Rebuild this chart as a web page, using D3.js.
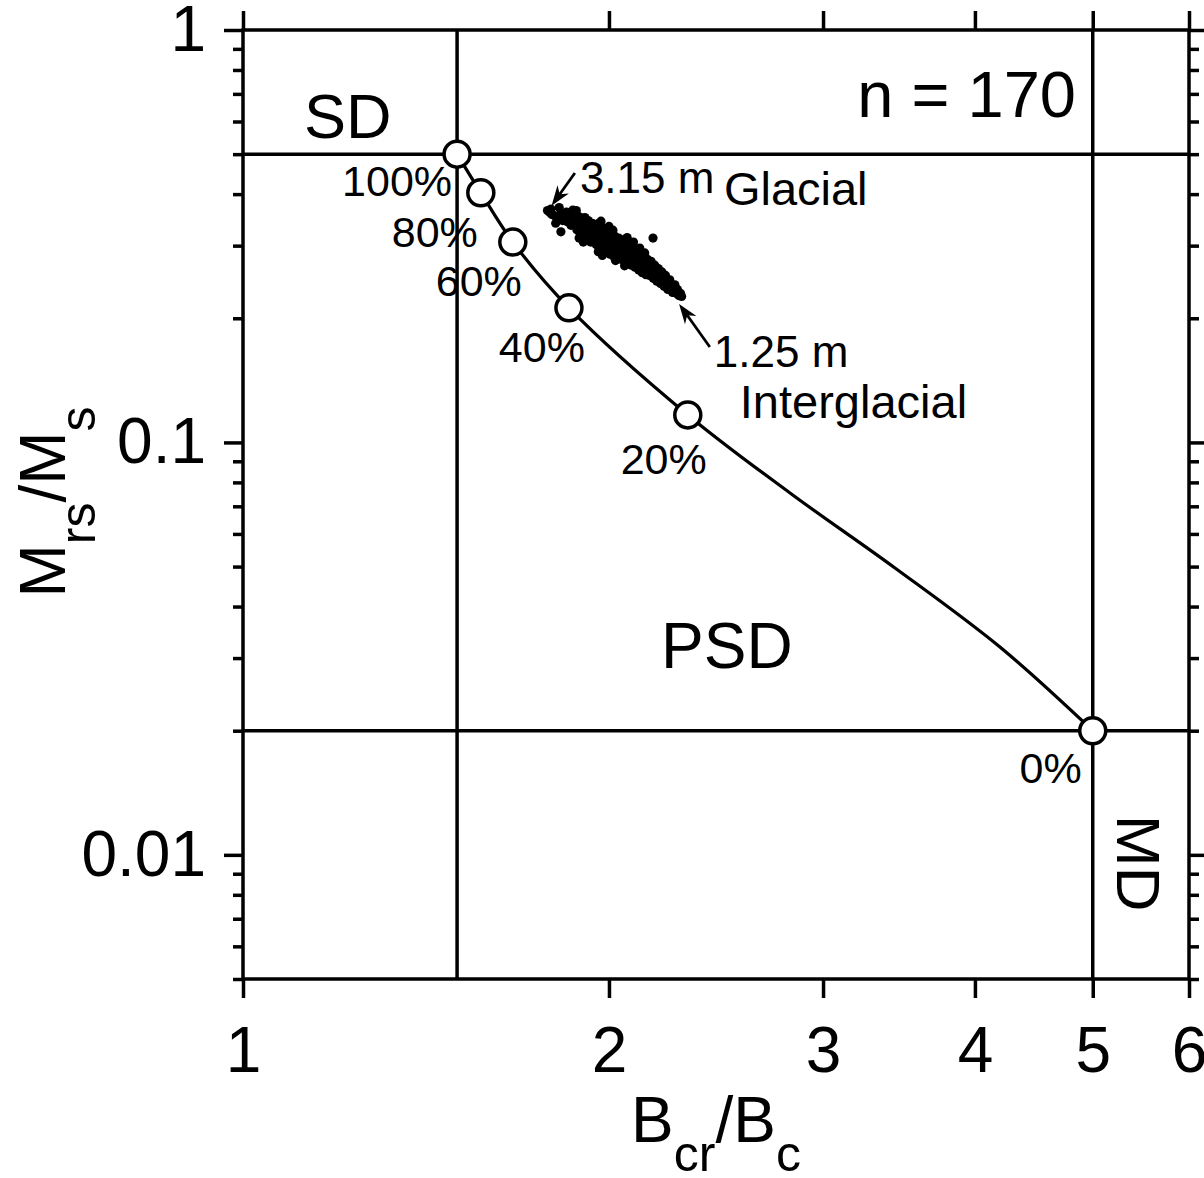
<!DOCTYPE html>
<html>
<head>
<meta charset="utf-8">
<script src="https://cdn.jsdelivr.net/npm/d3@7"></script>
<style>
  html, body { margin: 0; padding: 0; background: #fff; }
  svg { display: block; font-family: "Liberation Sans", Arial, Helvetica, sans-serif; }
</style>
</head>
<body>
<svg id="chart" width="1204" height="1178"></svg>
<script>
// ---- Day plot: SD–MD mixing curve and sample hysteresis ratios ----

// Axis ticks
const xTickValues = [1, 2, 3, 4, 5, 6];
const xTickLabels = ["1", "2", "3", "4", "5", "6"];
const yTickValues = [0.01, 0.1, 1];
const yTickLabels = ["0.01", "0.1", "1"];

// Domain boundaries (Bcr/Bc = 1.5 and 5; Mrs/Ms = 0.5 and 0.02)
const bcrLimits = [1.5, 5];
const mrsLimits = [0.5, 0.02];

// SD–MD mixing markers
const mixLabels = ["100%", "80%", "60%", "40%", "20%", "0%"];
const mixBcrBc  = [1.5, 1.569, 1.667, 1.854, 2.322, 5.0];
const mixMrsMs  = [0.5, 0.403, 0.306, 0.212, 0.1166, 0.02];

// Mixing curve trace
const curveBcrBc = [1.5, 1.569, 1.667, 1.854, 2.322, 2.818, 3.438, 4.194, 5.0];
const curveMrsMs = [0.5, 0.403, 0.306, 0.212, 0.1166, 0.0754, 0.0496, 0.0319, 0.02];

// Samples (n = 170): [Bcr/Bc, Mrs/Ms]
const samples = [
  [1.780,0.365],[1.788,0.361],[1.795,0.357],[1.792,0.368],[1.803,0.355],[1.812,0.351],[1.820,0.371],
  [1.826,0.359],[1.832,0.345],[1.808,0.340],[1.840,0.355],[1.848,0.343],[1.855,0.350],[1.861,0.336],
  [1.845,0.362],
  [1.826,0.324],[1.868,0.366],[2.174,0.313],
  [1.865,0.352],[1.870,0.338],[1.874,0.361],[1.878,0.347],[1.882,0.328],[1.886,0.354],[1.889,0.340],
  [1.893,0.322],[1.896,0.351],[1.899,0.335],[1.902,0.346],[1.905,0.319],[1.908,0.331],[1.911,0.351],
  [1.914,0.338],[1.917,0.313],[1.920,0.328],[1.923,0.345],[1.926,0.321],[1.929,0.335],[1.932,0.306],
  [1.935,0.319],[1.938,0.340],[1.941,0.328],[1.944,0.309],[1.947,0.323],[1.950,0.336],[1.890,0.313],
  [1.905,0.306],[1.880,0.365],
  [1.952,0.302],[1.955,0.330],[1.958,0.316],[1.961,0.340],[1.963,0.296],[1.966,0.322],[1.969,0.308],
  [1.972,0.333],[1.974,0.300],[1.977,0.318],[1.980,0.292],[1.982,0.314],[1.985,0.330],[1.988,0.300],
  [1.990,0.311],[1.993,0.289],[1.996,0.321],[1.998,0.303],[2.001,0.310],[2.004,0.286],[2.006,0.318],
  [2.009,0.297],[2.012,0.307],[2.015,0.327],[2.017,0.283],[2.020,0.299],[2.023,0.316],[2.026,0.290],
  [2.028,0.304],[2.031,0.280],[2.034,0.298],[2.037,0.313],[2.040,0.288],[2.043,0.302],[2.046,0.278],
  [2.048,0.296],[1.970,0.344],[1.960,0.290],[2.000,0.334],[2.025,0.276],
  [2.051,0.310],[2.054,0.288],[2.057,0.299],[2.060,0.278],[2.062,0.295],[2.065,0.307],[2.068,0.284],
  [2.071,0.297],[2.073,0.273],[2.076,0.290],[2.079,0.304],[2.082,0.280],[2.085,0.292],[2.087,0.269],
  [2.090,0.286],[2.093,0.300],[2.096,0.275],[2.099,0.288],[2.101,0.266],[2.104,0.282],[2.107,0.294],
  [2.110,0.270],[2.113,0.283],[2.116,0.262],[2.118,0.277],[2.121,0.290],[2.124,0.266],[2.127,0.279],
  [2.130,0.258],[2.133,0.273],[2.136,0.284],[2.139,0.262],[2.142,0.275],[2.145,0.255],[2.148,0.268],
  [2.070,0.314],[2.095,0.306],[2.120,0.296],[2.140,0.288],[2.060,0.268],
  [2.151,0.278],[2.154,0.261],[2.157,0.270],[2.160,0.254],[2.163,0.266],[2.166,0.275],[2.169,0.256],
  [2.172,0.266],[2.175,0.250],[2.178,0.261],[2.181,0.269],[2.184,0.252],[2.187,0.262],[2.190,0.246],
  [2.193,0.257],[2.196,0.264],[2.199,0.248],[2.202,0.257],[2.205,0.243],[2.208,0.252],[2.211,0.259],
  [2.214,0.244],[2.217,0.252],[2.220,0.239],[2.223,0.248],[2.226,0.254],[2.229,0.240],[2.232,0.247],
  [2.236,0.235],[2.240,0.243],[2.244,0.248],[2.248,0.236],[2.252,0.242],[2.256,0.231],[2.261,0.238],
  [2.266,0.241],[2.271,0.230],[2.277,0.235],[2.283,0.227],[2.290,0.230],
  [2.295,0.226],[1.975,0.284]
];

// Depth annotations: arrow tail and tip in data units
const depthNotes = [
  { text: "3.15 m", zone: "Glacial",      tail: [1.875, 0.450], tip: [1.794, 0.375] },
  { text: "1.25 m", zone: "Interglacial", tail: [2.421, 0.1704], tip: [2.284, 0.2167] }
];

// ---- layout ----
const svg = d3.select("#chart");
const mLeft = 243, mRight = 1189, mTop = 30, mBottom = 979;
const LW = 3.5;

const x = d3.scaleLog().domain([1, 6]).range([mLeft, mRight]);
const y = d3.scaleLog().domain([0.005, 1]).range([mBottom, mTop]);

const minorY = y.ticks().filter(v => !yTickValues.some(m => Math.abs(m - v) < 1e-9));

function styleAxis(g) {
  g.select(".domain").remove();
  g.selectAll(".tick line").attr("stroke", "#000").attr("stroke-width", LW);
  g.selectAll(".tick text").attr("fill", "#000")
    .attr("font-size", 64).attr("font-family", "Liberation Sans, Arial, sans-serif");
}

// Left axis (major with labels, minor without)
svg.append("g").attr("transform", `translate(${mLeft},0)`)
  .call(d3.axisLeft(y).tickValues(yTickValues).tickSize(19).tickPadding(18)
    .tickFormat((d, i) => yTickLabels[i]))
  .call(styleAxis);
svg.append("g").attr("transform", `translate(${mLeft},0)`)
  .call(d3.axisLeft(y).tickValues(minorY).tickSize(10).tickFormat(""))
  .call(styleAxis);

// Right axis
svg.append("g").attr("transform", `translate(${mRight},0)`)
  .call(d3.axisRight(y).tickValues(yTickValues).tickSize(19).tickFormat(""))
  .call(styleAxis);
svg.append("g").attr("transform", `translate(${mRight},0)`)
  .call(d3.axisRight(y).tickValues(minorY).tickSize(10).tickFormat(""))
  .call(styleAxis);

// Bottom axis
svg.append("g").attr("transform", `translate(0,${mBottom})`)
  .call(d3.axisBottom(x).tickValues(xTickValues).tickSize(19).tickPadding(29)
    .tickFormat((d, i) => xTickLabels[i]))
  .call(styleAxis);

// Top axis
svg.append("g").attr("transform", `translate(0,${mTop})`)
  .call(d3.axisTop(x).tickValues(xTickValues).tickSize(19).tickFormat(""))
  .call(styleAxis);

// Frame
svg.append("rect")
  .attr("x", mLeft).attr("y", mTop)
  .attr("width", mRight - mLeft).attr("height", mBottom - mTop)
  .attr("fill", "none").attr("stroke", "#000").attr("stroke-width", LW);

// Domain boundary lines
svg.selectAll("line.vlim").data(bcrLimits).join("line")
  .attr("class", "vlim")
  .attr("x1", d => x(d)).attr("x2", d => x(d))
  .attr("y1", mTop).attr("y2", mBottom)
  .attr("stroke", "#000").attr("stroke-width", LW);
svg.selectAll("line.hlim").data(mrsLimits).join("line")
  .attr("class", "hlim")
  .attr("x1", mLeft).attr("x2", mRight)
  .attr("y1", d => y(d)).attr("y2", d => y(d))
  .attr("stroke", "#000").attr("stroke-width", LW);

// Mixing curve
const curvePts = curveBcrBc.map((b, i) => [b, curveMrsMs[i]]);
svg.append("path")
  .datum(curvePts)
  .attr("d", d3.line().x(d => x(d[0])).y(d => y(d[1])).curve(d3.curveCatmullRom.alpha(0.5)))
  .attr("fill", "none").attr("stroke", "#000").attr("stroke-width", 3.2);

// Samples
svg.append("g").selectAll("circle").data(samples).join("circle")
  .attr("cx", d => x(d[0])).attr("cy", d => y(d[1]))
  .attr("r", 4.6).attr("fill", "#000");

// Mixing markers
const mixPts = mixBcrBc.map((b, i) => ({ b, m: mixMrsMs[i], label: mixLabels[i] }));
svg.append("g").selectAll("circle").data(mixPts).join("circle")
  .attr("cx", d => x(d.b)).attr("cy", d => y(d.m))
  .attr("r", 13).attr("fill", "#fff").attr("stroke", "#000").attr("stroke-width", LW);

// Percent labels, offset from their markers (right edge, baseline)
const pctOffsets = [[-5, 42], [-3, 54], [9, 54], [16, 54], [19, 59], [-11, 52]];
svg.append("g").selectAll("text").data(mixPts).join("text")
  .attr("x", (d, i) => x(d.b) + pctOffsets[i][0])
  .attr("y", (d, i) => y(d.m) + pctOffsets[i][1])
  .attr("text-anchor", "end").attr("font-size", 43)
  .text(d => d.label);

// Depth annotations with arrows; text offsets from the arrow tail
const noteOffsets = [
  { num: [5, 20], zone: [149, 32] },
  { num: [4, 20], zone: [30, 71] }
];
depthNotes.forEach((n, i) => {
  const tx = x(n.tail[0]), ty = y(n.tail[1]);
  const px = x(n.tip[0]), py = y(n.tip[1]);
  const ang = Math.atan2(py - ty, px - tx);
  const headLen = 20, headW = 7, notch = 6;
  const c = Math.cos(ang), s = Math.sin(ang);
  svg.append("line")
    .attr("x1", tx).attr("y1", ty)
    .attr("x2", px - c * (headLen - notch)).attr("y2", py - s * (headLen - notch))
    .attr("stroke", "#000").attr("stroke-width", 2.8);
  const bx = px - c * headLen, by = py - s * headLen;
  const nx = px - c * (headLen - notch), ny = py - s * (headLen - notch);
  svg.append("path")
    .attr("d", `M${px},${py} L${bx - s * headW},${by + c * headW} L${nx},${ny} L${bx + s * headW},${by - c * headW} Z`)
    .attr("fill", "#000");
  const o = noteOffsets[i];
  svg.append("text").attr("x", tx + o.num[0]).attr("y", ty + o.num[1]).attr("font-size", 44).text(n.text);
  svg.append("text").attr("x", tx + o.zone[0]).attr("y", ty + o.zone[1]).attr("font-size", 47).text(n.zone);
});

// Region labels
svg.append("text").attr("x", 304).attr("y", 138).attr("font-size", 63).text("SD");
svg.append("text").attr("x", 1076).attr("y", 117).attr("font-size", 65).attr("text-anchor", "end").text("n = 170");
svg.append("text").attr("x", 661).attr("y", 668).attr("font-size", 64).text("PSD");
svg.append("text").attr("transform", "translate(1117,815) rotate(90)").attr("font-size", 62).text("MD");

// Axis titles
const xt = svg.append("text").attr("x", (mLeft + mRight) / 2).attr("y", 1142)
  .attr("text-anchor", "middle").attr("font-size", 64);
xt.append("tspan").text("B");
xt.append("tspan").attr("font-size", 50).attr("dy", 29).text("cr");
xt.append("tspan").attr("dy", -29).text("/B");
xt.append("tspan").attr("font-size", 50).attr("dy", 29).text("c");

const yt = svg.append("text").attr("transform", "translate(65,502) rotate(-90)")
  .attr("text-anchor", "middle").attr("font-size", 64);
yt.append("tspan").text("M");
yt.append("tspan").attr("font-size", 50).attr("dy", 30).text("rs");
yt.append("tspan").attr("dy", -30).text("/M");
yt.append("tspan").attr("font-size", 50).attr("dy", 30).text("s");
</script>
</body>
</html>
